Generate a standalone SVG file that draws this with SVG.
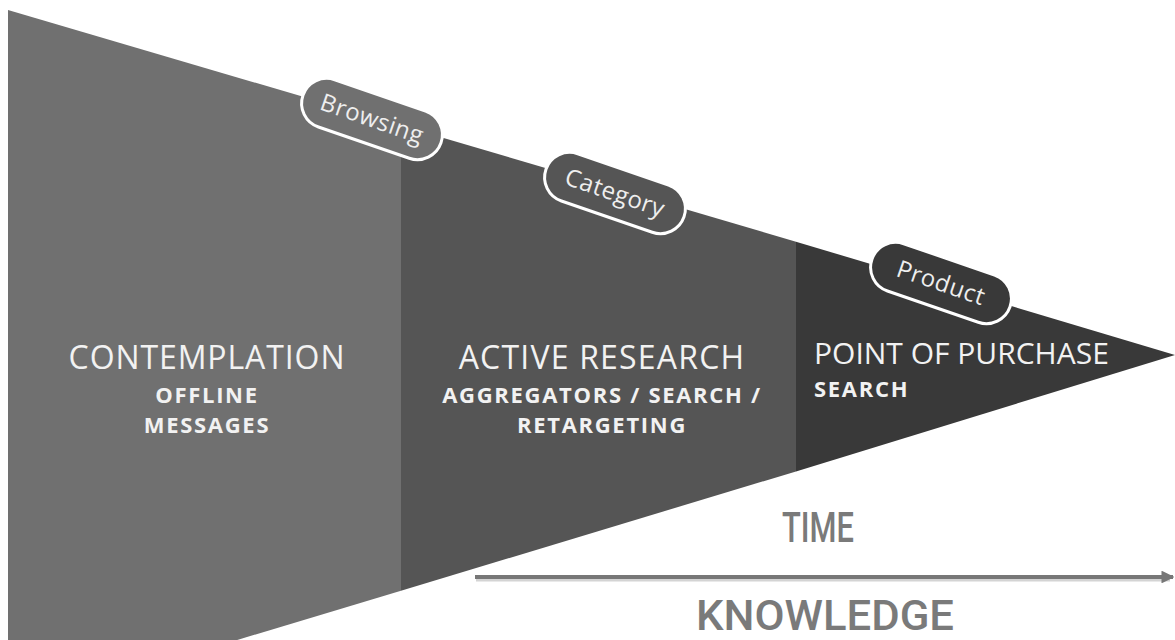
<svg xmlns="http://www.w3.org/2000/svg" width="1175" height="640" viewBox="0 0 1175 640">
  <style>
    .stage-title { font-family: "Open Sans", "Liberation Sans", sans-serif; font-size: 32px; fill: #f2f2f2; letter-spacing: 0.9px; }
    .stage-sub { font-family: "Open Sans", "Liberation Sans", sans-serif; font-size: 22px; font-weight: 700; fill: #f2f2f2; letter-spacing: 1.7px; }
    .pill-box { stroke: #ffffff; stroke-width: 3; }
    .pill-text { font-family: "Open Sans", "Liberation Sans", sans-serif; font-size: 24px; fill: #eeeeee; letter-spacing: 0.5px; text-anchor: middle; }
    .axis-label { font-family: Roboto, "Liberation Sans", sans-serif; font-weight: 500; font-size: 43px; fill: #7a7a7a; text-anchor: middle; }
    .axis { stroke: #777777; stroke-width: 4; fill: none; }
    .axis-shadow { stroke: #d4d4d4; stroke-width: 3; fill: none; }
  </style>
  <defs>
    <marker id="axis-head" viewBox="0 0 10 10" refX="9" refY="5" markerWidth="3.2" markerHeight="3.2" orient="auto">
      <path d="M0,0 L10,5 L0,10 Z" fill="#777777"/>
    </marker>
  </defs>

  <rect width="1175" height="640" fill="#ffffff"/>

  <!-- funnel stages -->
  <g id="stage-contemplation">
    <polygon points="8,10 401,125.5 401,590.7 8,709" fill="#707070"/>
    <text class="stage-title" x="207" y="369" text-anchor="middle">CONTEMPLATION</text>
    <text class="stage-sub" x="207" y="403" text-anchor="middle">OFFLINE</text>
    <text class="stage-sub" x="207" y="433" text-anchor="middle">MESSAGES</text>
  </g>

  <g id="stage-active-research">
    <polygon points="401,125.5 796,241.7 796,471.4 401,590.7" fill="#555555"/>
    <text class="stage-title" x="602" y="369" text-anchor="middle" style="letter-spacing:1.2px">ACTIVE RESEARCH</text>
    <text class="stage-sub" x="602" y="403" text-anchor="middle">AGGREGATORS / SEARCH /</text>
    <text class="stage-sub" x="602" y="433" text-anchor="middle">RETARGETING</text>
  </g>

  <g id="stage-point-of-purchase">
    <polygon points="796,241.7 1175,355 796,471.4" fill="#393939"/>
    <text class="stage-title" x="814" y="364" style="font-size:30px;letter-spacing:0">POINT OF PURCHASE</text>
    <text class="stage-sub" x="814" y="397">SEARCH</text>
  </g>

  <!-- tags on the upper edge -->
  <g id="tag-browsing" transform="translate(372,119) rotate(19)">
    <rect class="pill-box" x="-73" y="-25" width="146" height="50" rx="25" fill="#707070"/>
    <text class="pill-text" x="0" y="8">Browsing</text>
  </g>

  <g id="tag-category" transform="translate(615,193) rotate(19)">
    <rect class="pill-box" x="-73" y="-25" width="146" height="50" rx="25" fill="#555555"/>
    <text class="pill-text" x="0" y="8">Category</text>
  </g>

  <g id="tag-product" transform="translate(941,283) rotate(19)">
    <rect class="pill-box" x="-73" y="-25" width="146" height="50" rx="25" fill="#393939"/>
    <text class="pill-text" x="0" y="8">Product</text>
  </g>

  <!-- time / knowledge axis -->
  <g id="connectors">
    <line class="axis-shadow" x1="476" y1="580" x2="1170" y2="580"/>
    <line class="axis" x1="475" y1="577" x2="1173" y2="577" marker-end="url(#axis-head)"/>
  </g>

  <g id="axis-labels">
    <text class="axis-label" x="818" y="542" textLength="72" lengthAdjust="spacingAndGlyphs">TIME</text>
    <text class="axis-label" x="825" y="630" textLength="258" lengthAdjust="spacingAndGlyphs">KNOWLEDGE</text>
  </g>
</svg>
